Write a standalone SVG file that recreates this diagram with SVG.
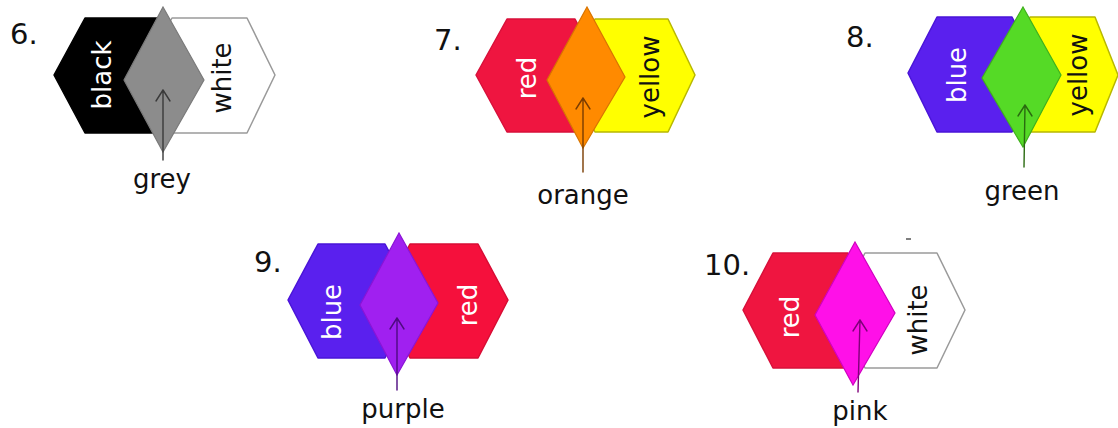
<svg xmlns="http://www.w3.org/2000/svg" width="1118" height="428" viewBox="0 0 1118 428">
<style>
text{font-family:"DejaVu Sans","Noto Sans",sans-serif}
.num{font-size:29px;fill:#111}
.lbl{font-size:26px;fill:#111;text-anchor:middle}
.vt{font-size:26px;text-anchor:middle;dominant-baseline:central}
.w{fill:#fff}
.k{fill:#111}
.hex{stroke-width:1.5;stroke-linejoin:round}
.dia{stroke-width:1.2}
.arr{fill:none;stroke-width:1.4;stroke-linecap:round;stroke-linejoin:round}
</style>
<rect width="1118" height="428" fill="#fff"/>

<g id="item6">
<text class="num" x="10" y="44">6.</text>
<polygon class="hex" points="54,75 85,18 160,18 190,75 160,133 85,133" fill="#000" stroke="#000"/>
<polygon class="hex" points="140,75 172,18 247,18 275,75 247,133 172,133" fill="#fff" stroke="#9a9a9a"/>
<text class="vt w" transform="translate(102,75) rotate(-90)">black</text>
<text class="vt k" transform="translate(222,78) rotate(-90)">white</text>
<polygon class="dia" points="163,7 204,80 163,152 124,80" fill="#8c8c8c" stroke="#7a7a7a"/>
<text class="lbl" x="162" y="188">grey</text>
</g>

<g id="item7">
<text class="num" x="434" y="50">7.</text>
<polygon class="hex" points="476,75 507,19 575,19 605,75 575,132 507,132" fill="#EF1540" stroke="#d8103a"/>
<polygon class="hex" points="565,75 595,19 668,19 695,75 668,132 595,132" fill="#FFFF00" stroke="#b8b800"/>
<text class="vt w" transform="translate(527,78) rotate(-90)">red</text>
<text class="vt k" transform="translate(650,77) rotate(-90)">yellow</text>
<polygon class="dia" points="587,7 625,77 583,148 547,80" fill="#FF8A00" stroke="#d87400"/>
<text class="lbl" x="583" y="204">orange</text>
</g>

<g id="item8">
<text class="num" x="846" y="47">8.</text>
<polygon class="hex" points="908,73 937,17 1012,17 1042,75 1012,132 937,132" fill="#5A20EE" stroke="#4a14d8"/>
<polygon class="hex" points="1003,75 1030,17 1095,17 1118,75 1095,132 1030,132" fill="#FFFF00" stroke="#b8b800"/>
<text class="vt w" transform="translate(957,75) rotate(-90)">blue</text>
<text class="vt k" transform="translate(1078,75) rotate(-90)">yellow</text>
<polygon class="dia" points="1023,7 1061,75 1023,147 982,78" fill="#55DA26" stroke="#3fb01c"/>
<text class="lbl" x="1022" y="200">green</text>
</g>

<g id="item9">
<text class="num" x="254" y="272">9.</text>
<polygon class="hex" points="288,300 318,244 385,244 415,300 385,358 318,358" fill="#5A20EE" stroke="#4a14d8"/>
<polygon class="hex" points="380,300 410,244 478,244 508,300 478,358 410,358" fill="#F5103C" stroke="#d80c34"/>
<text class="vt w" transform="translate(332,312) rotate(-90)">blue</text>
<text class="vt w" transform="translate(468,305) rotate(-90)">red</text>
<polygon class="dia" points="399,233 438,303 397,375 360,305" fill="#A020F0" stroke="#8a14d6"/>
<text class="lbl" x="403" y="418">purple</text>
</g>

<g id="item10">
<text class="num" x="704" y="275">10.</text>
<line x1="906" y1="239" x2="911" y2="239" stroke="#555" stroke-width="1.5"/>
<polygon class="hex" points="743,310 773,253 848,253 878,310 848,368 773,368" fill="#EF1540" stroke="#d8103a"/>
<polygon class="hex" points="835,310 865,253 937,253 965,310 937,368 865,368" fill="#fff" stroke="#9a9a9a"/>
<text class="vt w" transform="translate(790,317) rotate(-90)">red</text>
<text class="vt k" transform="translate(918,320) rotate(-90)">white</text>
<polygon class="dia" points="855,242 895,313 853,385 815,315" fill="#FF10E8" stroke="#d000c0"/>
<text class="lbl" x="860" y="420">pink</text>
</g>

<g id="connectors">
<path class="arr" stroke="#3a3a3a" d="M163,160 L163,90 M156,101 L163,90 L170,101"/>
<path class="arr" stroke="#7a3c00" d="M583,172 L583,98 M576,109 L583,98 L590,109"/>
<path class="arr" stroke="#2a6a10" d="M1024,167 L1025,105 M1018,116 L1025,105 L1032,116"/>
<path class="arr" stroke="#4e0a80" d="M397,390 L397,318 M390,329 L397,318 L404,329"/>
<path class="arr" stroke="#80007a" d="M858,392 L860,320 M853,331 L860,320 L867,331"/>
</g>
</svg>
